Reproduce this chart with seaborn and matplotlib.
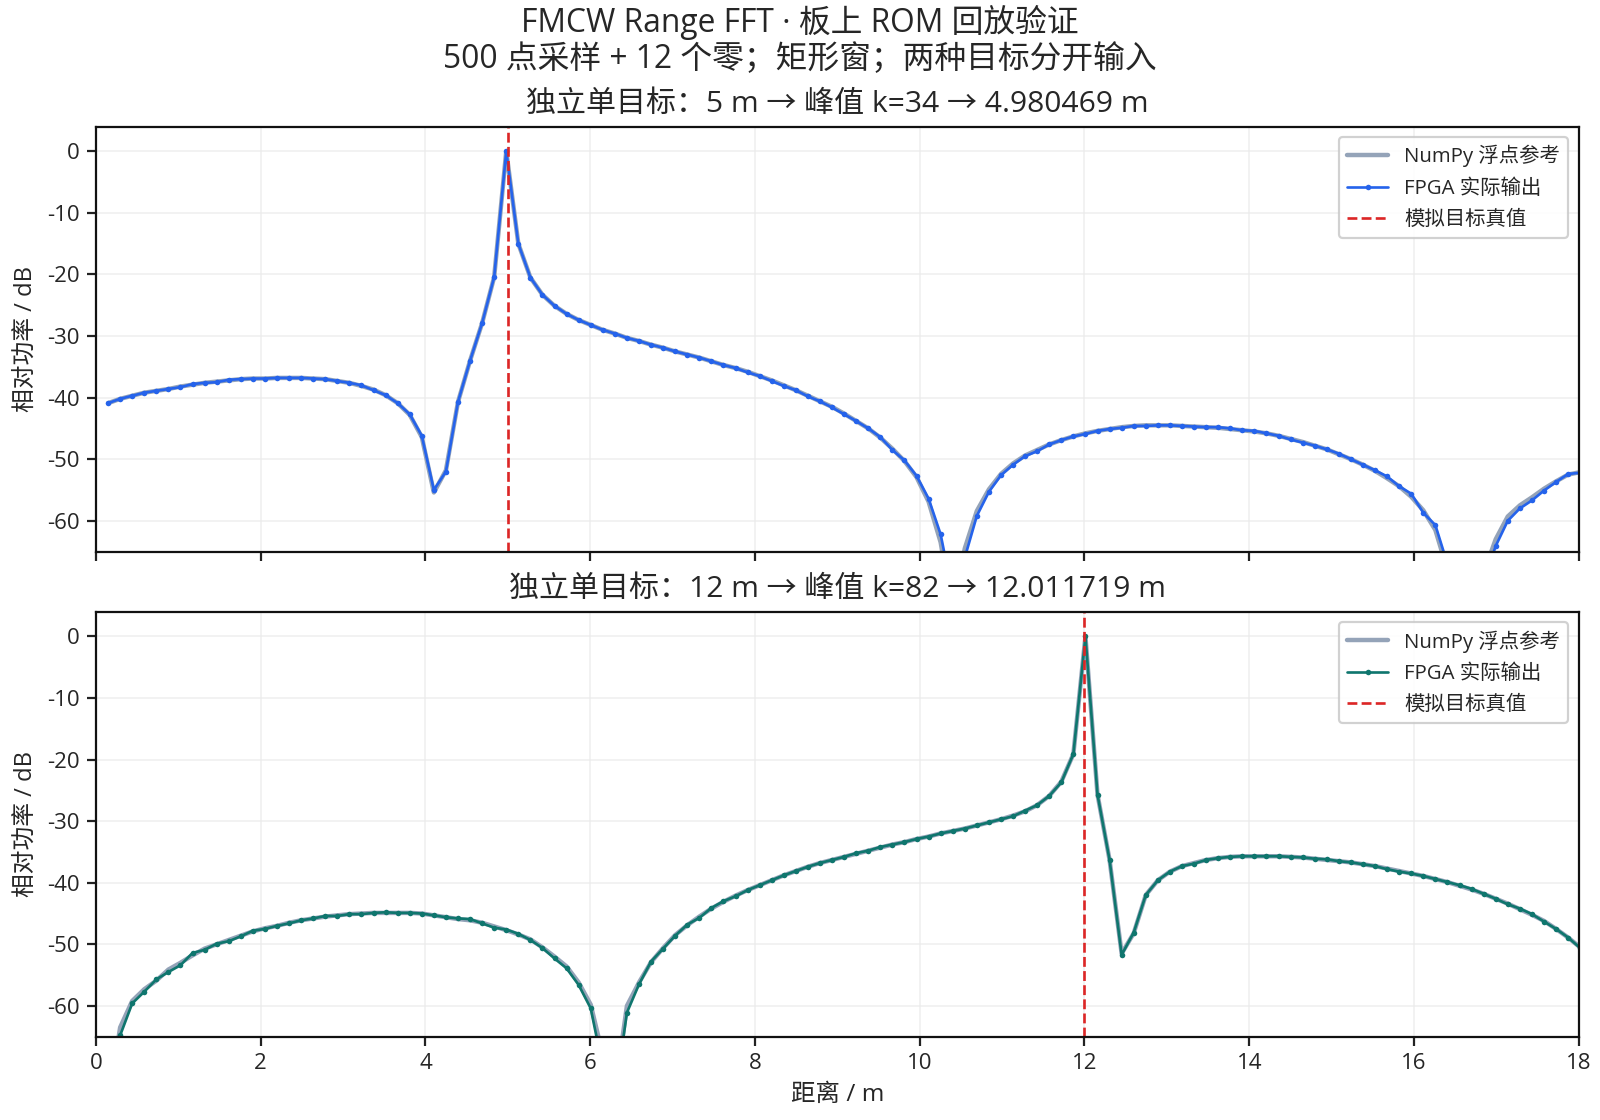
import numpy as np
import pandas as pd
import matplotlib
matplotlib.use("Agg")
import matplotlib.pyplot as plt
import seaborn as sns

# range bin width of the 512-point FFT, metres
BIN_M = 0.146484375
bins = np.arange(1, 124)

# panel 1: single target at 5 m
target_a = 5.0
fpga_a = [
    -40.9, -40.2, -39.7, -39.2, -38.9, -38.6, -38.3, -37.8, -37.6, -37.5,
    -37.1, -37.0, -36.9, -36.9, -36.8, -36.8, -36.8, -36.9, -37.0, -37.3,
    -37.6, -38.0, -38.8, -39.6, -40.9, -42.7, -46.2, -55.0, -52.0, -40.7,
    -34.0, -27.9, -20.4, 0.0, -15.0, -20.5, -23.3, -25.1, -26.4, -27.4,
    -28.2, -29.0, -29.6, -30.3, -30.8, -31.4, -31.9, -32.5, -33.0, -33.5,
    -34.1, -34.7, -35.2, -35.9, -36.5, -37.3, -38.1, -38.8, -39.8, -40.6,
    -41.6, -42.7, -43.8, -45.0, -46.4, -48.5, -50.2, -52.7, -56.4, -62.2,
    -72.0, -66.0, -59.2, -55.3, -52.6, -50.9, -49.5, -48.7, -47.6, -46.9,
    -46.3, -45.9, -45.4, -45.1, -44.9, -44.6, -44.6, -44.5, -44.5, -44.6,
    -44.7, -44.8, -44.8, -45.0, -45.3, -45.4, -45.8, -46.2, -46.8, -47.3,
    -47.8, -48.4, -49.1, -50.0, -50.9, -51.8, -52.8, -54.4, -55.6, -58.7,
    -60.7, -67.0, -75.0, -78.0, -70.0, -64.1, -60.0, -58.0, -56.7, -55.1,
    -53.7, -52.4, -52.2,
]
ref_a = [
    -40.9, -40.2, -39.7, -39.2, -38.9, -38.6, -38.2, -37.9, -37.6, -37.4,
    -37.2, -37.0, -36.9, -36.9, -36.8, -36.8, -36.8, -36.9, -37.0, -37.3,
    -37.6, -38.1, -38.7, -39.6, -40.9, -42.8, -46.4, -55.4, -51.8, -40.7,
    -34.0, -27.9, -20.4, 0.0, -15.0, -20.5, -23.3, -25.1, -26.4, -27.4,
    -28.2, -29.0, -29.6, -30.3, -30.8, -31.4, -31.9, -32.5, -33.0, -33.5,
    -34.1, -34.7, -35.2, -35.8, -36.5, -37.2, -38.0, -38.8, -39.7, -40.6,
    -41.5, -42.6, -43.8, -45.0, -46.5, -48.3, -50.3, -52.9, -56.9, -63.5,
    -75.0, -64.5, -58.4, -54.9, -52.4, -50.7, -49.4, -48.5, -47.6, -46.9,
    -46.3, -45.8, -45.4, -45.1, -44.8, -44.6, -44.5, -44.5, -44.5, -44.6,
    -44.7, -44.8, -44.9, -45.1, -45.3, -45.5, -45.8, -46.2, -46.7, -47.2,
    -47.8, -48.4, -49.2, -50.0, -50.9, -51.9, -53.1, -54.4, -56.1, -58.3,
    -61.5, -68.0, -76.0, -77.0, -68.5, -63.0, -59.3, -57.5, -56.2, -54.8,
    -53.6, -52.5, -52.1,
]

# panel 2: single target at 12 m
target_b = 12.0
fpga_b = [
    -75.0, -64.8, -59.6, -57.7, -55.7, -54.5, -53.4, -51.4, -50.9, -49.9,
    -49.5, -48.7, -47.8, -47.5, -47.0, -46.6, -46.1, -45.8, -45.4, -45.4,
    -45.1, -45.1, -44.9, -44.8, -44.9, -44.9, -45.0, -45.3, -45.6, -45.8,
    -45.9, -46.6, -47.3, -47.6, -48.3, -49.3, -50.6, -52.3, -53.9, -56.6,
    -60.4, -70.0, -75.0, -61.1, -56.5, -52.8, -50.7, -48.6, -46.8, -45.7,
    -44.1, -43.0, -42.2, -41.2, -40.4, -39.6, -38.8, -38.1, -37.4, -36.8,
    -36.3, -35.8, -35.2, -34.8, -34.2, -33.8, -33.4, -32.9, -32.5, -32.0,
    -31.6, -31.2, -30.7, -30.2, -29.7, -29.2, -28.3, -27.4, -25.9, -23.7,
    -19.1, 0.0, -25.7, -36.3, -51.7, -48.1, -42.0, -39.6, -38.2, -37.3,
    -36.9, -36.3, -36.0, -35.8, -35.7, -35.7, -35.7, -35.7, -35.8, -35.9,
    -36.1, -36.2, -36.5, -36.7, -37.0, -37.3, -37.8, -38.2, -38.5, -38.9,
    -39.4, -39.9, -40.4, -41.0, -41.8, -42.6, -43.5, -44.2, -45.1, -46.3,
    -47.5, -48.9, -50.6,
]
ref_b = [
    -76.0, -63.5, -59.2, -57.3, -55.9, -54.1, -53.0, -51.8, -50.7, -50.0,
    -49.3, -48.6, -47.9, -47.4, -47.0, -46.5, -46.1, -45.8, -45.5, -45.3,
    -45.1, -45.0, -44.9, -44.9, -44.9, -44.9, -45.0, -45.3, -45.6, -45.9,
    -46.1, -46.5, -47.1, -47.7, -48.4, -49.2, -50.5, -52.0, -53.6, -56.2,
    -59.8, -68.0, -74.0, -60.0, -56.2, -52.9, -50.6, -48.5, -46.9, -45.5,
    -44.2, -43.1, -42.1, -41.2, -40.4, -39.6, -38.8, -38.1, -37.4, -36.8,
    -36.3, -35.8, -35.3, -34.8, -34.3, -33.8, -33.4, -32.9, -32.5, -32.0,
    -31.6, -31.2, -30.7, -30.2, -29.7, -29.1, -28.4, -27.4, -25.9, -23.6,
    -19.1, 0.0, -25.7, -36.3, -51.5, -48.2, -42.0, -39.6, -38.2, -37.3,
    -36.8, -36.3, -36.0, -35.8, -35.7, -35.7, -35.7, -35.7, -35.8, -35.9,
    -36.1, -36.3, -36.5, -36.7, -37.0, -37.3, -37.7, -38.1, -38.5, -38.9,
    -39.4, -39.9, -40.5, -41.1, -41.8, -42.6, -43.4, -44.3, -45.2, -46.2,
    -47.5, -48.9, -50.5,
]

panels = [
    ("独立单目标：5 m → 峰值 k=34 → 4.980469 m", target_a, fpga_a, ref_a, "#2563eb"),
    ("独立单目标：12 m → 峰值 k=82 → 12.011719 m", target_b, fpga_b, ref_b, "#0f766e"),
]

sns.set_theme(style="ticks")
plt.rcParams['font.family'] = ['Open Sans', 'Noto Sans CJK SC', 'DejaVu Sans']
plt.rcParams['axes.unicode_minus'] = False

fig, axes = plt.subplots(2, 1, figsize=(10, 7), dpi=160, sharex=True)
fig.subplots_adjust(left=0.06, right=0.9867, top=0.8869, bottom=0.0744, hspace=0.1417)

for ax, (title, target, fpga, ref, color) in zip(axes, panels):
    df = pd.DataFrame({"dist": bins * BIN_M, "ref": ref, "fpga": fpga})
    sns.lineplot(data=df, x="dist", y="ref", ax=ax, color="#94a3b8", lw=2.0,
                 label="NumPy 浮点参考", estimator=None)
    sns.lineplot(data=df, x="dist", y="fpga", ax=ax, color=color, lw=1.2,
                 marker="o", ms=2.5, mec=color, mew=0, label="FPGA 实际输出",
                 estimator=None)
    ax.axvline(target, color="#dc2626", ls="--", lw=1.2, label="模拟目标真值")
    ax.set_xlim(0, 18)
    ax.set_ylim(-65, 4)
    ax.set_yticks(np.arange(-60, 1, 10))
    ax.set_xticks(np.arange(0, 19, 2))
    ax.grid(True, color="#ebebeb", lw=0.8, alpha=0.7)
    ax.set_title(title, fontsize=13.5, pad=6.5)
    ax.set_ylabel("相对功率 / dB", fontsize=10.7)
    ax.set_xlabel("")
    ax.tick_params(labelsize=10, length=4, width=1, color="#222222")
    for sp in ax.spines.values():
        sp.set_color("#111111")
        sp.set_linewidth(1.0)
    ax.legend(loc="upper right", fontsize=9.2, labelspacing=0.55, frameon=True,
              fancybox=True, framealpha=0.9, edgecolor="#cccccc")

axes[1].set_xlabel("距离 / m", fontsize=11)
fig.suptitle("FMCW Range FFT · 板上 ROM 回放验证\n500 点采样 + 12 个零；矩形窗；两种目标分开输入",
             fontsize=14.3, y=0.996, va="top", linespacing=1.12)

fig.savefig("out.png", dpi=160)
